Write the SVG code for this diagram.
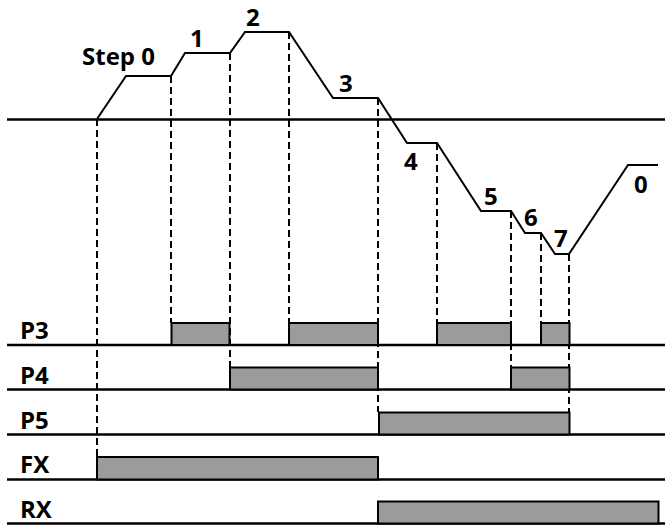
<svg xmlns="http://www.w3.org/2000/svg" width="665" height="528" viewBox="0 0 665 528">
<style>
.base{stroke:#000;stroke-width:2.5;fill:none}
.prof{stroke:#000;stroke-width:2;fill:none;stroke-linejoin:miter}
.dash{stroke:#000;stroke-width:2;stroke-dasharray:7 4;fill:none}
.bar{fill:#9b9b9b;stroke:#000;stroke-width:2}
text{font-family:"Open Sans","DejaVu Sans",sans-serif;font-weight:700;font-size:24px;fill:#000}
</style>
<rect width="665" height="528" fill="#fff"/>
<g id="connectors">
<line class="base" x1="7" y1="119.5" x2="665" y2="119.5"/>
<polyline id="profile" class="prof" points="97,119 126,76 171,76 185,53 230,53 245,32 289,32 333,98 378,98 407,143 437,143 481,211 511,211 525,233 541,233 555,254 569,254 628,165 658,165"/>
<line class="dash" x1="97" y1="119" x2="97" y2="456"/>
<line class="dash" x1="171" y1="76" x2="171" y2="323"/>
<line class="dash" x1="230" y1="53" x2="230" y2="367"/>
<line class="dash" x1="289" y1="32" x2="289" y2="323"/>
<line class="dash" x1="378" y1="98" x2="378" y2="412"/>
<line class="dash" x1="437" y1="143" x2="437" y2="323"/>
<line class="dash" x1="511" y1="211" x2="511" y2="367"/>
<line class="dash" x1="541" y1="233" x2="541" y2="323"/>
<line class="dash" x1="569" y1="254" x2="569" y2="412"/>
<line class="base" x1="7" y1="345" x2="665" y2="345"/>
<line class="base" x1="7" y1="389.5" x2="665" y2="389.5"/>
<line class="base" x1="7" y1="434.5" x2="665" y2="434.5"/>
<line class="base" x1="7" y1="479.5" x2="665" y2="479.5"/>
<line class="base" x1="7" y1="523.5" x2="665" y2="523.5"/>
</g>
<g id="P3">
<text x="20" y="339">P3</text>
<rect class="bar" x="171.5" y="323" width="58" height="22"/>
<rect class="bar" x="289" y="323" width="89" height="22"/>
<rect class="bar" x="437" y="323" width="74" height="22"/>
<rect class="bar" x="541" y="323" width="28.5" height="22"/>
</g>
<g id="P4">
<text x="20" y="384">P4</text>
<rect class="bar" x="230" y="367.5" width="148" height="22"/>
<rect class="bar" x="511" y="367.5" width="58.5" height="22"/>
</g>
<g id="P5">
<text x="20" y="429">P5</text>
<rect class="bar" x="379" y="412.5" width="190.5" height="22"/>
</g>
<g id="FX">
<text x="20" y="473">FX</text>
<rect class="bar" x="97" y="457" width="281" height="22.5"/>
</g>
<g id="RX">
<text x="20" y="518">RX</text>
<rect class="bar" x="378" y="501.5" width="280.5" height="22"/>
</g>
<g id="labels">
<text x="82" y="65">Step 0</text>
<text x="190" y="47">1</text>
<text x="246" y="26">2</text>
<text x="339" y="92">3</text>
<text x="404" y="170">4</text>
<text x="484" y="205">5</text>
<text x="524" y="226">6</text>
<text x="554" y="247">7</text>
<text x="634" y="193">0</text>
</g>
</svg>
